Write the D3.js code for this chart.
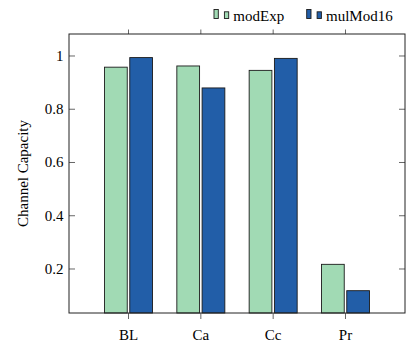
<!DOCTYPE html>
<html>
<head>
<meta charset="utf-8">
<script src="https://cdn.jsdelivr.net/npm/d3@7"></script>
<style>
  html, body { margin: 0; padding: 0; background: #fff; }
  svg { display: block; }
</style>
</head>
<body>
<svg id="chart" width="409" height="347"></svg>
<script>
const categories = ["BL", "Ca", "Cc", "Pr"];
const seriesNames = ["modExp", "mulMod16"];
const modExp = [0.958, 0.9625, 0.946, 0.2175];
const mulMod16 = [0.994, 0.880, 0.991, 0.1185];
const yTicks = [0.2, 0.4, 0.6, 0.8, 1];
const yTickLabels = ["0.2", "0.4", "0.6", "0.8", "1"];
const colors = ["#a1dab4", "#225ea8"];
const yLabel = "Channel Capacity";

const seriesValues = [modExp, mulMod16];
const FONT = "Liberation Serif, serif";
const fs = 15;

const svg = d3.select("#chart");
const L = 69, R = 405, T = 34, B = 313;

const x = d3.scalePoint().domain(categories).range([L, R]).padding(0.8227);
const xSub = d3.scaleBand().domain(seriesNames).range([-24, 24]).paddingInner(0.1);
const y = d3.scaleLinear().domain([0.0347, 1.0826]).range([B, T]);

function label(sel, tx, ty, txt, anchor, extra) {
  return sel.append("text")
    .attr("transform", `translate(${tx},${ty}) ${extra || ""}`)
    .attr("text-anchor", anchor)
    .attr("font-size", fs)
    .attr("font-family", FONT)
    .attr("fill", "#000")
    .text(txt);
}

// bars
seriesNames.forEach((s, si) => {
  svg.append("g").selectAll("rect")
    .data(categories.map((c, i) => ({ c, v: seriesValues[si][i] })))
    .join("rect")
    .attr("x", d => x(d.c) + xSub(s))
    .attr("width", xSub.bandwidth())
    .attr("y", d => y(d.v))
    .attr("height", d => B - y(d.v))
    .attr("fill", colors[si])
    .attr("stroke", "#1a1a1a")
    .attr("stroke-width", 0.9);
});

// ticks
const tickLen = 6;
const tg = svg.append("g").attr("stroke", "#555").attr("stroke-width", 0.9);
categories.forEach(c => {
  tg.append("line").attr("x1", x(c)).attr("x2", x(c)).attr("y1", B).attr("y2", B + tickLen);
  tg.append("line").attr("x1", x(c)).attr("x2", x(c)).attr("y1", T).attr("y2", T - 4.5);
});
yTicks.forEach(t => {
  tg.append("line").attr("x1", L).attr("x2", L + tickLen).attr("y1", y(t)).attr("y2", y(t));
  tg.append("line").attr("x1", R).attr("x2", R - tickLen).attr("y1", y(t)).attr("y2", y(t));
});

// frame
svg.append("rect").attr("x", L).attr("y", T).attr("width", R - L).attr("height", B - T)
  .attr("fill", "none").attr("stroke", "#222").attr("stroke-width", 1);

// tick labels
const xl = svg.append("g");
categories.forEach(c => label(xl, x(c), 339.5, c, "middle"));
const yl = svg.append("g");
yTicks.forEach((t, i) => label(yl, 63.5, y(t) + 5, yTickLabels[i], "end"));

// y label
label(svg, 27.5, (T + B) / 2, yLabel, "middle", "rotate(-90)");

// legend
const legendPos = [214, 306.7];
const lg = svg.append("g");
seriesNames.forEach((s, si) => {
  const x0 = legendPos[si];
  lg.append("rect").attr("x", x0).attr("y", 9.5).attr("width", 4.3).attr("height", 9)
    .attr("fill", colors[si]).attr("stroke", "#1a1a1a").attr("stroke-width", 0.9);
  lg.append("rect").attr("x", x0 + 10.4).attr("y", 11.8).attr("width", 4.3).attr("height", 6.7)
    .attr("fill", colors[si]).attr("stroke", "#1a1a1a").attr("stroke-width", 0.9);
  label(lg, x0 + 19.3, 20.5, s, "start");
});
</script>
</body>
</html>
